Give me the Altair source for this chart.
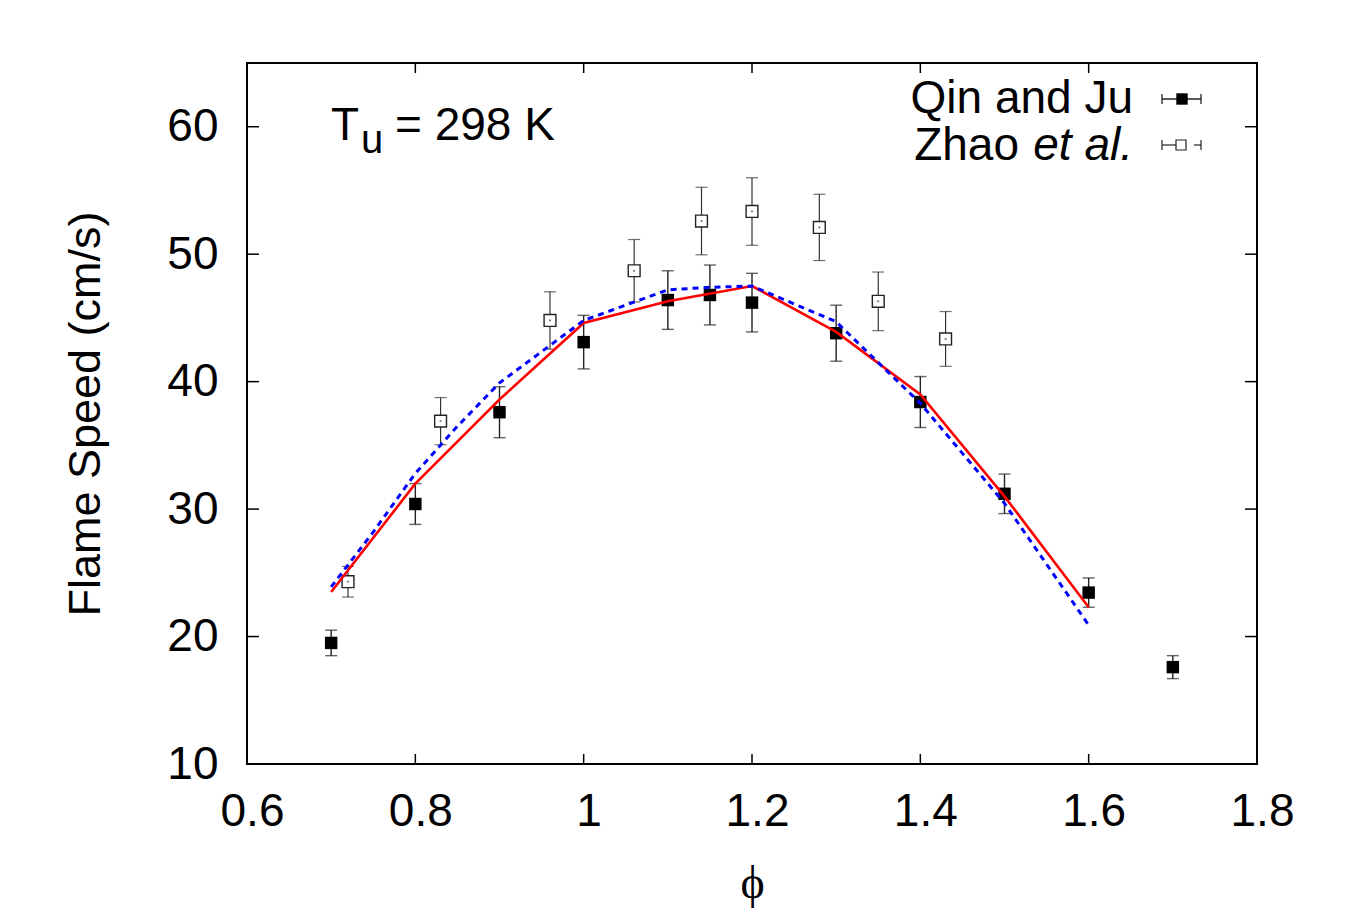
import altair as alt
import pandas as pd

# ---- data ----
qin_phi = [0.7, 0.8, 0.9, 1.0, 1.1, 1.15, 1.2, 1.3, 1.4, 1.5, 1.6, 1.7]
qin_speed = [19.5, 30.4, 37.6, 43.1, 46.4, 46.8, 46.2, 43.8, 38.4, 31.2, 23.45, 17.6]
qin_err = [1.0, 1.6, 2.0, 2.1, 2.3, 2.35, 2.3, 2.2, 2.0, 1.55, 1.15, 0.9]

zhao_phi = [0.72, 0.83, 0.96, 1.06, 1.14, 1.2, 1.28, 1.35, 1.43]
zhao_speed = [24.3, 36.9, 44.8, 48.7, 52.6, 53.35, 52.1, 46.3, 43.35]
zhao_err = [1.2, 1.85, 2.25, 2.45, 2.65, 2.65, 2.6, 2.3, 2.15]

red_phi = [0.7, 0.8, 0.9, 1.0, 1.1, 1.2, 1.3, 1.4, 1.5, 1.6]
red_speed = [23.5, 32.0, 38.6, 44.6, 46.3, 47.5, 43.9, 39.0, 31.0, 22.3]

blue_phi = [0.7, 0.75, 0.8, 0.85, 0.9, 1.0, 1.1, 1.15, 1.2, 1.3, 1.4, 1.5, 1.6]
blue_speed = [23.9, 28.2, 32.8, 36.5, 39.9, 44.8, 47.2, 47.4, 47.5, 44.7, 38.3, 30.45, 20.9]

x_ticks = [0.6, 0.8, 1.0, 1.2, 1.4, 1.6, 1.8]
y_ticks = [10, 20, 30, 40, 50, 60]

W, H = 1010, 701
FONT = "Liberation Sans"

qin = pd.DataFrame({"phi": qin_phi, "s": qin_speed,
                    "lo": [a - b for a, b in zip(qin_speed, qin_err)],
                    "hi": [a + b for a, b in zip(qin_speed, qin_err)]})
zhao = pd.DataFrame({"phi": zhao_phi, "s": zhao_speed,
                     "lo": [a - b for a, b in zip(zhao_speed, zhao_err)],
                     "hi": [a + b for a, b in zip(zhao_speed, zhao_err)]})
red = pd.DataFrame({"phi": red_phi, "s": red_speed})
blue = pd.DataFrame({"phi": blue_phi, "s": blue_speed})
xt = pd.DataFrame({"v": x_ticks[1:-1]})
yt = pd.DataFrame({"v": y_ticks[1:]})

xs = alt.Scale(domain=[0.6, 1.8], nice=False, zero=False)
ys = alt.Scale(domain=[10, 65], nice=False, zero=False)

X = alt.X("phi:Q", scale=xs, axis=alt.Axis(values=x_ticks, format="~g", title="ϕ",
          ticks=False, domain=False, grid=False, labelFontSize=46, labelPadding=25,
          labelOffset=5, labelFont=FONT, titleFont="Liberation Serif", titleFontSize=46,
          titleFontWeight="normal", titlePadding=27, labelColor="black", titleColor="black",
          labelFlush=False))
Y = alt.Y("s:Q", scale=ys, axis=alt.Axis(values=y_ticks, title="Flame Speed (cm/s)",
          ticks=False, domain=False, grid=False, labelFontSize=46, labelPadding=29,
          labelFont=FONT, titleFont=FONT, titleFontSize=45, titleFontWeight="normal",
          titlePadding=58, labelColor="black", titleColor="black", labelFlush=False))

base_axes = alt.Chart(qin).mark_point(opacity=0).encode(x=X, y=Y)

# inward ticks on all four sides
xb = alt.Chart(xt).mark_rule(color="black", strokeWidth=1.5).encode(
    x=alt.X("v:Q", scale=xs), y=alt.value(H), y2=alt.value(H - 10))
xtop = alt.Chart(xt).mark_rule(color="black", strokeWidth=1.5).encode(
    x=alt.X("v:Q", scale=xs), y=alt.value(0), y2=alt.value(10))
yl = alt.Chart(yt).mark_rule(color="black", strokeWidth=1.5).encode(
    y=alt.Y("v:Q", scale=ys), x=alt.value(0), x2=alt.value(12))
yr = alt.Chart(yt).mark_rule(color="black", strokeWidth=1.5).encode(
    y=alt.Y("v:Q", scale=ys), x=alt.value(W), x2=alt.value(W - 12))

def errbars(df, col, sw):
    bar = alt.Chart(df).mark_rule(color=col, strokeWidth=sw).encode(
        x=alt.X("phi:Q", scale=xs), y=alt.Y("lo:Q", scale=ys), y2="hi:Q")
    cap_lo = alt.Chart(df).mark_tick(color=col, orient="horizontal", size=12, thickness=sw).encode(
        x=alt.X("phi:Q", scale=xs), y=alt.Y("lo:Q", scale=ys))
    cap_hi = alt.Chart(df).mark_tick(color=col, orient="horizontal", size=12, thickness=sw).encode(
        x=alt.X("phi:Q", scale=xs), y=alt.Y("hi:Q", scale=ys))
    return [bar, cap_lo, cap_hi]

zhao_pts = alt.Chart(zhao).mark_point(shape="square", filled=True, fill="white", stroke="#222",
                                      strokeWidth=1.4, size=140, opacity=1).encode(
    x=alt.X("phi:Q", scale=xs), y=alt.Y("s:Q", scale=ys))
zhao_dot = alt.Chart(zhao).mark_point(shape="square", filled=True, color="#222", size=3).encode(
    x=alt.X("phi:Q", scale=xs), y=alt.Y("s:Q", scale=ys))
qin_pts = alt.Chart(qin).mark_point(shape="square", filled=True, color="black", size=155,
                                    opacity=1).encode(
    x=alt.X("phi:Q", scale=xs), y=alt.Y("s:Q", scale=ys))

red_line = alt.Chart(red).mark_line(color="red", strokeWidth=2.6).encode(
    x=alt.X("phi:Q", scale=xs), y=alt.Y("s:Q", scale=ys))
blue_line = alt.Chart(blue).mark_line(color="blue", strokeWidth=3, strokeDash=[6, 5]).encode(
    x=alt.X("phi:Q", scale=xs), y=alt.Y("s:Q", scale=ys))

# annotation T_u = 298 K
ann_df = pd.DataFrame({"t": ["T", "u", "= 298 K"], "x": [84, 114, 148], "y": [77, 90, 77],
                       "fs": [46, 40, 46]})
ann = alt.Chart(ann_df).mark_text(align="left", baseline="alphabetic", font=FONT,
                                  color="black").encode(
    text="t:N", x=alt.X("x:Q", scale=None), y=alt.Y("y:Q", scale=None),
    size=alt.Size("fs:Q", scale=None, legend=None))

# legend (gnuplot style)
leg_txt = pd.DataFrame({"t": ["Qin and Ju", "Zhao"], "x": [886, 772], "y": [50, 97]})
leg_text = alt.Chart(leg_txt).mark_text(align="right", baseline="alphabetic", font=FONT,
                                        fontSize=46, color="black").encode(
    text="t:N", x=alt.X("x:Q", scale=None), y=alt.Y("y:Q", scale=None))
leg_it = alt.Chart(pd.DataFrame({"t": ["et al."]})).mark_text(
    align="right", baseline="alphabetic", font=FONT, fontSize=46, fontStyle="italic",
    color="black").encode(text="t:N", x=alt.value(886), y=alt.value(97))

l1y, l2y = 36, 82
one = pd.DataFrame({"a": [0]})
leg_marks = [
    alt.Chart(one).mark_rule(color="#222", strokeWidth=1.3).encode(
        x=alt.value(915), x2=alt.value(954), y=alt.value(l1y)),
    alt.Chart(one).mark_rule(color="#222", strokeWidth=1.3).encode(
        x=alt.value(915), x2=alt.value(915), y=alt.value(l1y - 5), y2=alt.value(l1y + 5)),
    alt.Chart(one).mark_rule(color="#222", strokeWidth=1.3).encode(
        x=alt.value(954), x2=alt.value(954), y=alt.value(l1y - 5), y2=alt.value(l1y + 5)),
    alt.Chart(one).mark_point(shape="square", filled=True, color="black",
                              size=130, opacity=1).encode(
        x=alt.value(935), y=alt.value(l1y)),
    alt.Chart(one).mark_rule(color="#222", strokeWidth=1.2).encode(
        x=alt.value(915), x2=alt.value(929), y=alt.value(l2y)),
    alt.Chart(one).mark_rule(color="#222", strokeWidth=1.2).encode(
        x=alt.value(947), x2=alt.value(954), y=alt.value(l2y)),
    alt.Chart(one).mark_rule(color="#222", strokeWidth=1.2).encode(
        x=alt.value(915), x2=alt.value(915), y=alt.value(l2y - 5), y2=alt.value(l2y + 5)),
    alt.Chart(one).mark_rule(color="#222", strokeWidth=1.2).encode(
        x=alt.value(954), x2=alt.value(954), y=alt.value(l2y - 5), y2=alt.value(l2y + 5)),
    alt.Chart(one).mark_point(shape="square", filled=True, fill="white",
                              stroke="#222", strokeWidth=1.2, size=100,
                              opacity=1).encode(
        x=alt.value(934), y=alt.value(l2y)),
]

layers = ([base_axes, xb, xtop, yl, yr]
          + errbars(zhao, "#333", 1.2) + [zhao_pts, zhao_dot]
          + errbars(qin, "#222", 1.4) + [qin_pts]
          + [red_line, blue_line, ann, leg_text, leg_it] + leg_marks)

chart = alt.layer(*layers).properties(
    width=W, height=H,
    autosize=alt.AutoSizeParams(type="none"),
    padding={"left": 239, "top": 55, "right": 100, "bottom": 150},
    background="white",
).configure_view(stroke="black", strokeWidth=2)

chart.save("out.html", embed_options={"renderer": "svg", "actions": False})
